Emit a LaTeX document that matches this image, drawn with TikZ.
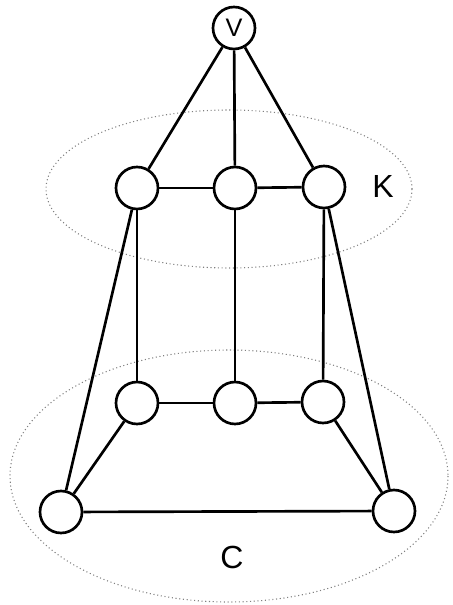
\documentclass[tikz,border=0pt]{standalone}
\usepackage{fontspec}
\setmainfont{Liberation Sans}
\usepackage{tikz}

\tikzset{
  vtx/.style={draw, circle, line width=2pt, minimum size=31.5pt, inner sep=0pt, fill=white},
  edg/.style={line width=2pt},
  grp/.style={draw=gray, dotted, line width=0.8pt},
}

\begin{document}
\begin{tikzpicture}[x=0.75pt,y=0.75pt,yscale=-1,xscale=1]
\useasboundingbox (0,0) rectangle (452,605);

%Ellipse [id:K]
\draw [grp] (229,189) ellipse (183 and 79);
%Ellipse [id:C]
\draw [grp] (229,476) ellipse (219 and 126);

% Vertices
\node [vtx] (v) at (234,28) {\fontsize{19}{19}\selectfont V};
\node [vtx] (k1) at (137,188) {};
\node [vtx] (k2) at (235,188) {};
\node [vtx] (k3) at (324,187) {};
\node [vtx] (c1) at (137,403) {};
\node [vtx] (c2) at (235,403) {};
\node [vtx] (c3) at (323,402) {};
\node [vtx] (b1) at (61,512) {};
\node [vtx] (b2) at (394,511) {};

% Straight Lines
\draw [edg] (v) -- (k1) ;
\draw [edg] (v) -- (k2) ;
\draw [edg] (v) -- (k3) ;
\draw [edg] (k1) -- (k2) ;
\draw [edg] (k2) -- (k3) ;
\draw [edg] (k1) -- (c1) ;
\draw [edg] (k2) -- (c2) ;
\draw [edg] (k3) -- (c3) ;
\draw [edg] (c1) -- (c2) ;
\draw [edg] (c2) -- (c3) ;
\draw [edg] (c1) -- (b1) ;
\draw [edg] (c3) -- (b2) ;
\draw [edg] (b1) -- (b2) ;
\draw [edg] (k1) -- (b1) ;
\draw [edg] (k3) -- (b2) ;

% Text Node
\node [inner sep=0.75pt] (lk) at (383,186) {\fontsize{24}{24}\selectfont K};
% Text Node
\node [inner sep=0.75pt] (lc) at (232,557) {\fontsize{24}{24}\selectfont C};

\end{tikzpicture}
\end{document}
